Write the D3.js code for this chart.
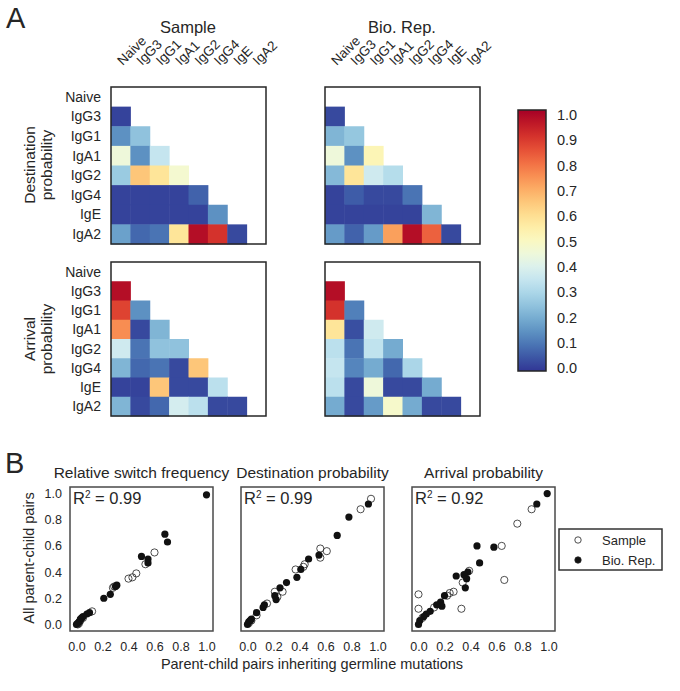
<!DOCTYPE html>
<html>
<head>
<meta charset="utf-8">
<script src="https://cdn.jsdelivr.net/npm/d3@7.9.0/dist/d3.min.js"></script>
<style>
  body { margin: 0; background: #fff; }
  svg text { font-family: "Liberation Sans", Arial, sans-serif; fill: #262626; }
</style>
</head>
<body>
<svg id="chart" width="680" height="691"></svg>
<script>
const isotypes = ['Naive', 'IgG3', 'IgG1', 'IgA1', 'IgG2', 'IgG4', 'IgE', 'IgA2'];

// lower triangle, row i holds columns 0..i-1
const destSample = [[], [0.02], [0.15, 0.25], [0.45, 0.15, 0.35], [0.27, 0.65, 0.58, 0.47],
  [0.02, 0.02, 0.02, 0.02, 0.07], [0.02, 0.02, 0.02, 0.02, 0.02, 0.15],
  [0.18, 0.08, 0.1, 0.58, 0.97, 0.9, 0.03]];
const destBio = [[], [0.03], [0.22, 0.26], [0.45, 0.15, 0.52], [0.23, 0.58, 0.37, 0.32],
  [0.02, 0.06, 0.03, 0.03, 0.1], [0.02, 0.02, 0.02, 0.02, 0.02, 0.22],
  [0.17, 0.07, 0.17, 0.72, 0.97, 0.82, 0.03]];
const arrSample = [[], [0.97], [0.87, 0.15], [0.75, 0.03, 0.22], [0.37, 0.1, 0.25, 0.25],
  [0.22, 0.08, 0.1, 0.03, 0.65], [0.02, 0.02, 0.65, 0.03, 0.03, 0.33],
  [0.22, 0.03, 0.08, 0.38, 0.33, 0.03, 0.03]];
const arrBio = [[], [0.97], [0.9, 0.12], [0.58, 0.04, 0.37], [0.33, 0.1, 0.34, 0.2],
  [0.35, 0.13, 0.2, 0.08, 0.3], [0.33, 0.03, 0.45, 0.03, 0.03, 0.2],
  [0.2, 0.03, 0.17, 0.48, 0.2, 0.03, 0.03]];

const cbarTicks = [0, 0.1, 0.2, 0.3, 0.4, 0.5, 0.6, 0.7, 0.8, 0.9, 1.0];

// scatter points [germline-inheriting, all pairs]
const rsfSample = [[0.60, 0.55], [0.53, 0.46], [0.46, 0.39], [0.43, 0.36], [0.40, 0.35],
  [0.29, 0.29], [0.28, 0.28], [0.12, 0.10], [0.05, 0.05], [0.03, 0.03], [0.02, 0.01], [0.01, 0.0]];
const rsfBio = [[1.0, 0.99], [0.68, 0.69], [0.70, 0.63], [0.50, 0.52], [0.55, 0.50], [0.55, 0.47],
  [0.30, 0.29], [0.31, 0.30], [0.26, 0.23], [0.21, 0.20], [0.10, 0.09], [0.08, 0.08],
  [0.05, 0.06], [0.04, 0.05], [0.03, 0.04], [0.02, 0.02], [0.01, 0.01], [0.0, 0.0]];
const destSampleB = [[0.95, 0.96], [0.87, 0.88], [0.56, 0.58], [0.61, 0.56], [0.56, 0.51],
  [0.44, 0.46], [0.43, 0.44], [0.37, 0.42], [0.21, 0.25], [0.27, 0.25], [0.23, 0.21],
  [0.15, 0.16], [0.07, 0.07], [0.03, 0.03], [0.01, 0.01]];
const destBioB = [[0.93, 0.92], [0.78, 0.82], [0.69, 0.68], [0.55, 0.53], [0.47, 0.50],
  [0.41, 0.42], [0.38, 0.36], [0.30, 0.32], [0.25, 0.28], [0.21, 0.22], [0.22, 0.19],
  [0.13, 0.15], [0.12, 0.13], [0.07, 0.09], [0.03, 0.04], [0.02, 0.03], [0.01, 0.02], [0.0, 0.0]];
const arrSampleB = [[0.87, 0.88], [0.76, 0.77], [0.64, 0.60], [0.66, 0.34], [0.39, 0.41],
  [0.34, 0.32], [0.27, 0.25], [0.24, 0.24], [0.22, 0.22], [0.33, 0.12], [0.0, 0.23],
  [0.0, 0.12], [0.03, 0.05], [0.12, 0.13]];
const arrBioB = [[0.99, 1.0], [0.91, 0.92], [0.45, 0.60], [0.58, 0.59], [0.47, 0.47],
  [0.29, 0.37], [0.38, 0.40], [0.35, 0.38], [0.37, 0.35], [0.36, 0.28], [0.20, 0.22],
  [0.17, 0.17], [0.18, 0.14], [0.14, 0.15], [0.09, 0.10], [0.06, 0.08], [0.04, 0.06],
  [0.01, 0.03], [0.0, 0.0]];

const axTicks = [0, 0.2, 0.4, 0.6, 0.8, 1.0];

const svg = d3.select('#chart');
const color = d3.scaleSequential(t => d3.interpolateRdYlBu(1 - t)).domain([0, 1]);

function heatmap(matrix, x0, y0, w, h, opts) {
  const g = svg.append('g').attr('transform', `translate(${x0},${y0})`);
  const x = d3.scaleBand().domain(isotypes).range([0, w]);
  const y = d3.scaleBand().domain(isotypes).range([0, h]);
  const cells = [];
  matrix.forEach((row, i) => row.forEach((v, j) => cells.push({ r: isotypes[i], c: isotypes[j], v })));
  g.selectAll('rect.cell').data(cells).join('rect')
    .attr('x', d => x(d.c)).attr('y', d => y(d.r))
    .attr('width', x.bandwidth() + 0.5).attr('height', y.bandwidth() + 0.5)
    .attr('fill', d => color(d.v));
  g.append('rect').attr('width', w).attr('height', h)
    .attr('fill', 'none').attr('stroke', '#262626').attr('stroke-width', 1.5);
  if (opts.rowLabels) {
    g.selectAll('text.row').data(isotypes).join('text')
      .attr('x', -10).attr('y', d => y(d) + y.bandwidth() / 2)
      .attr('dy', '0.35em').attr('text-anchor', 'end')
      .style('font-size', '14px').text(d => d);
  }
  if (opts.colLabels) {
    g.selectAll('text.col').data(isotypes).join('text')
      .attr('transform', d => `translate(${x(d) + x.bandwidth() / 2 + 2},-21) rotate(-45)`)
      .style('font-size', '13.5px').text(d => d);
  }
}

heatmap(destSample, 111, 87, 155, 157, { rowLabels: true, colLabels: true });
heatmap(destBio, 325, 87, 155, 157, { colLabels: true });
heatmap(arrSample, 111, 262, 155, 154, { rowLabels: true });
heatmap(arrBio, 325, 262, 155, 154, {});

svg.append('text').attr('x', 6).attr('y', 28).style('font-size', '29px').text('A');
svg.append('text').attr('x', 188).attr('y', 33).attr('text-anchor', 'middle').style('font-size', '16.5px').text('Sample');
svg.append('text').attr('x', 402).attr('y', 33).attr('text-anchor', 'middle').style('font-size', '16.5px').text('Bio. Rep.');

function yTitle(lines, cx, cy, xs, size) {
  lines.forEach((l, i) => {
    svg.append('text').attr('transform', `translate(${xs[i]},${cy}) rotate(-90)`)
      .attr('text-anchor', 'middle').style('font-size', size).text(l);
  });
}
yTitle(['Destination', 'probability'], 0, 165, [35, 52], '15.5px');
yTitle(['Arrival', 'probability'], 0, 339, [35, 52], '15.5px');

// colorbar
const cb = { x: 518, y: 110, w: 28, h: 261 };
const grad = svg.append('defs').append('linearGradient').attr('id', 'cbar')
  .attr('x1', 0).attr('y1', 1).attr('x2', 0).attr('y2', 0);
d3.range(0, 1.0001, 0.05).forEach(t => grad.append('stop').attr('offset', t).attr('stop-color', color(t)));
svg.append('rect').attr('x', cb.x).attr('y', cb.y).attr('width', cb.w).attr('height', cb.h)
  .attr('fill', 'url(#cbar)').attr('stroke', '#262626').attr('stroke-width', 1.5);
const cbScale = d3.scaleLinear().domain([0, 1]).range([cb.y + cb.h - 3, cb.y + 5]);
const cbAxis = svg.append('g').attr('transform', `translate(${cb.x + cb.w},0)`)
  .call(d3.axisRight(cbScale).tickValues(cbarTicks).tickFormat(d3.format('.1f')).tickSize(0).tickPadding(11));
cbAxis.select('.domain').remove();
cbAxis.selectAll('text').style('font-size', '14.5px').style('font-family', '"Liberation Sans", Arial, sans-serif').attr('fill', '#262626');

// part B
svg.append('text').attr('x', 5).attr('y', 473).style('font-size', '29px').text('B');

const panels = [
  { title: 'Relative switch frequency', r2: '0.99', x0: 70, samp: rsfSample, bio: rsfBio },
  { title: 'Destination probability', r2: '0.99', x0: 241, samp: destSampleB, bio: destBioB },
  { title: 'Arrival probability', r2: '0.92', x0: 412, samp: arrSampleB, bio: arrBioB }
];
const pw = 143, ph = 144, py0 = 487;
const sx = d3.scaleLinear().domain([-0.05, 1.05]).range([0, pw]);
const sy = d3.scaleLinear().domain([-0.05, 1.05]).range([ph, 0]);

panels.forEach((p, k) => {
  const g = svg.append('g').attr('transform', `translate(${p.x0},${py0})`);
  g.append('text').attr('x', pw / 2).attr('y', -9).attr('text-anchor', 'middle')
    .style('font-size', '15.5px').attr('fill', '#333').text(p.title);
  g.selectAll('circle.s').data(p.samp).join('circle')
    .attr('cx', d => sx(d[0])).attr('cy', d => sy(d[1])).attr('r', 3.6)
    .attr('fill', 'none').attr('stroke', '#222').attr('stroke-width', 0.8);
  g.selectAll('circle.b').data(p.bio).join('circle')
    .attr('cx', d => sx(d[0])).attr('cy', d => sy(d[1])).attr('r', 3.6)
    .attr('fill', '#111');
  g.append('rect').attr('width', pw).attr('height', ph)
    .attr('fill', 'none').attr('stroke', '#4a4a4a').attr('stroke-width', 1.5);
  const r2 = g.append('text').attr('x', 3).attr('y', 17).style('font-size', '16.5px');
  r2.append('tspan').text('R');
  r2.append('tspan').style('font-size', '10px').attr('dy', -6).text('2');
  r2.append('tspan').attr('dy', 6).text(' = ' + p.r2);
  const xa = g.append('g').attr('transform', `translate(0,${ph})`)
    .call(d3.axisBottom(sx).tickValues(axTicks).tickFormat(d3.format('.1f')).tickSize(0).tickPadding(11));
  xa.select('.domain').remove();
  xa.selectAll('text').style('font-size', '12.5px').style('font-family', '"Liberation Sans", Arial, sans-serif').attr('fill', '#555');
  if (k === 0) {
    const ya = g.append('g')
      .call(d3.axisLeft(sy).tickValues(axTicks).tickFormat(d3.format('.1f')).tickSize(0).tickPadding(8));
    ya.select('.domain').remove();
    ya.selectAll('text').style('font-size', '12.5px').style('font-family', '"Liberation Sans", Arial, sans-serif').attr('fill', '#555');
  }
});

svg.append('text').attr('transform', 'translate(34,558) rotate(-90)').attr('text-anchor', 'middle')
  .style('font-size', '14.5px').attr('fill', '#444').text('All parent-child pairs');
svg.append('text').attr('x', 312).attr('y', 669).attr('text-anchor', 'middle')
  .style('font-size', '14.5px').attr('fill', '#444').text('Parent-child pairs inheriting germline mutations');

// legend
const lg = svg.append('g').attr('transform', 'translate(559,529)');
lg.append('rect').attr('width', 103).attr('height', 41).attr('fill', '#fff')
  .attr('stroke', '#333').attr('stroke-width', 1.5);
const legendItems = [{ label: 'Sample', open: true }, { label: 'Bio. Rep.', open: false }];
legendItems.forEach((d, i) => {
  const yy = 11 + i * 20;
  lg.append('circle').attr('cx', 19).attr('cy', yy).attr('r', 3.2)
    .attr('fill', d.open ? 'none' : '#111').attr('stroke', '#222').attr('stroke-width', 0.8);
  lg.append('text').attr('x', 43).attr('y', yy).attr('dy', '0.35em')
    .style('font-size', '13px').attr('fill', '#333').text(d.label);
});
</script>
</body>
</html>
